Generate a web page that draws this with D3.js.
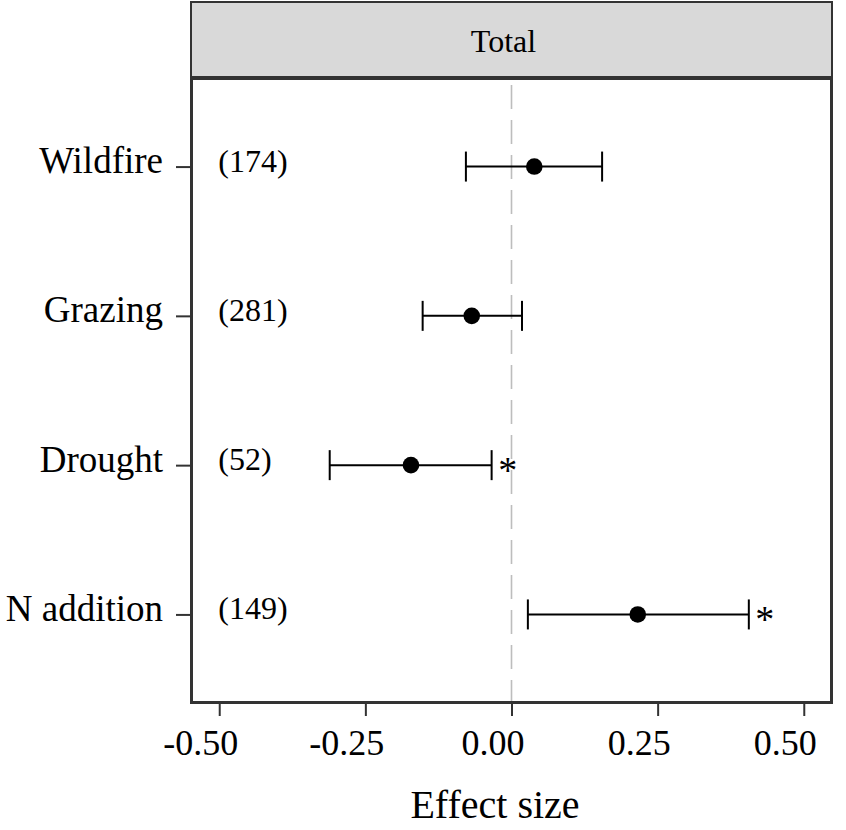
<!DOCTYPE html>
<html>
<head>
<meta charset="utf-8">
<script src="https://cdn.jsdelivr.net/npm/d3@7"></script>
<style>
  html, body { margin: 0; padding: 0; background: #fff; }
  svg { display: block; }
  text { font-family: "Liberation Serif", "Times New Roman", serif; fill: #000; }
</style>
</head>
<body>
<svg id="chart" width="846" height="830"></svg>
<script>
// ---- data ----
const categories = ["Wildfire", "Grazing", "Drought", "N addition"];
const counts = [174, 281, 52, 149];
const estimate = [0.039, -0.068, -0.172, 0.216];
const lower = [-0.078, -0.152, -0.311, 0.028];
const upper = [0.155, 0.018, -0.034, 0.406];
const significance = ["", "", "*", "*"];
const xTicks = [-0.5, -0.25, 0, 0.25, 0.5];
const xTickLabels = ["-0.50", "-0.25", "0.00", "0.25", "0.50"];
const stripLabel = "Total";
const xTitle = "Effect size";

// ---- layout ----
const svg = d3.select("#chart");
const panel = { left: 190, right: 833, top: 77, bottom: 704 };
const strip = { top: 2, bottom: 77 };

const x = d3.scaleLinear().domain([-0.55, 0.55]).range([panel.left, panel.right]);
const y = d3.scalePoint().domain(categories).range([panel.top, panel.bottom]).padding(0.6);

const rows = categories.map((c, i) => ({
  cat: c, n: counts[i], est: estimate[i], lo: lower[i], hi: upper[i], sig: significance[i]
}));

// strip
svg.append("rect")
  .attr("x", panel.left + 1).attr("y", strip.top)
  .attr("width", panel.right - panel.left - 2).attr("height", strip.bottom - strip.top)
  .attr("fill", "#d9d9d9").attr("stroke", "#333").attr("stroke-width", 2);
svg.append("text")
  .attr("x", (panel.left + panel.right) / 2 - 8).attr("y", 52)
  .attr("text-anchor", "middle").attr("font-size", 32)
  .text(stripLabel);

// panel background
svg.append("rect")
  .attr("x", panel.left).attr("y", panel.top)
  .attr("width", panel.right - panel.left).attr("height", panel.bottom - panel.top)
  .attr("fill", "#fff");

// zero reference line
svg.append("line")
  .attr("x1", x(0)).attr("x2", x(0))
  .attr("y1", panel.top + 8).attr("y2", panel.bottom)
  .attr("stroke", "#bdbdbd").attr("stroke-width", 1.6)
  .attr("stroke-dasharray", "24 11");

// error bars
const g = svg.append("g");
const capH = 15;
g.selectAll("line.bar").data(rows).join("line")
  .attr("class", "bar")
  .attr("x1", d => x(d.lo)).attr("x2", d => x(d.hi))
  .attr("y1", d => y(d.cat)).attr("y2", d => y(d.cat))
  .attr("stroke", "#000").attr("stroke-width", 2);
g.selectAll("line.capL").data(rows).join("line")
  .attr("class", "capL")
  .attr("x1", d => x(d.lo)).attr("x2", d => x(d.lo))
  .attr("y1", d => y(d.cat) - capH).attr("y2", d => y(d.cat) + capH)
  .attr("stroke", "#000").attr("stroke-width", 2);
g.selectAll("line.capR").data(rows).join("line")
  .attr("class", "capR")
  .attr("x1", d => x(d.hi)).attr("x2", d => x(d.hi))
  .attr("y1", d => y(d.cat) - capH).attr("y2", d => y(d.cat) + capH)
  .attr("stroke", "#000").attr("stroke-width", 2);
g.selectAll("circle").data(rows).join("circle")
  .attr("cx", d => x(d.est)).attr("cy", d => y(d.cat))
  .attr("r", 8.3).attr("fill", "#000");

// sample sizes
g.selectAll("text.n").data(rows).join("text")
  .attr("class", "n")
  .attr("x", x(-0.5) - 1).attr("y", d => y(d.cat) + 5)
  .attr("font-size", 32)
  .text(d => "(" + d.n + ")");

// significance
g.selectAll("text.sig").data(rows.filter(d => d.sig)).join("text")
  .attr("class", "sig")
  .attr("x", d => x(d.hi) + 16).attr("y", d => y(d.cat) + 18)
  .attr("text-anchor", "middle").attr("font-size", 38)
  .text(d => d.sig);

// panel border
svg.append("rect")
  .attr("x", panel.left + 1.5).attr("y", panel.top + 1.5)
  .attr("width", panel.right - panel.left - 3).attr("height", panel.bottom - panel.top - 3)
  .attr("fill", "none").attr("stroke", "#333").attr("stroke-width", 3);

// x axis
const xAxis = d3.axisBottom(x).tickValues(xTicks)
  .tickFormat((d, i) => xTickLabels[i]).tickSize(12).tickPadding(0);
const xg = svg.append("g").attr("transform", `translate(0,${panel.bottom})`).call(xAxis);
xg.select(".domain").remove();
xg.selectAll(".tick line").attr("stroke", "#333").attr("stroke-width", 2);
xg.selectAll(".tick text")
  .attr("font-family", "Liberation Serif").attr("font-size", 36)
  .attr("fill", "#000")
  .attr("x", -19).attr("y", 0).attr("dy", 51);

// y axis
const yAxis = d3.axisLeft(y).tickSize(14).tickPadding(13);
const yg = svg.append("g").attr("transform", `translate(${panel.left},0)`).call(yAxis);
yg.select(".domain").remove();
yg.selectAll(".tick line").attr("stroke", "#333").attr("stroke-width", 2);
yg.selectAll(".tick text")
  .attr("font-family", "Liberation Serif").attr("font-size", 37)
  .attr("fill", "#000").attr("dy", 6);

// x title
svg.append("text")
  .attr("x", 495).attr("y", 818)
  .attr("text-anchor", "middle").attr("font-size", 40)
  .text(xTitle);
</script>
</body>
</html>
